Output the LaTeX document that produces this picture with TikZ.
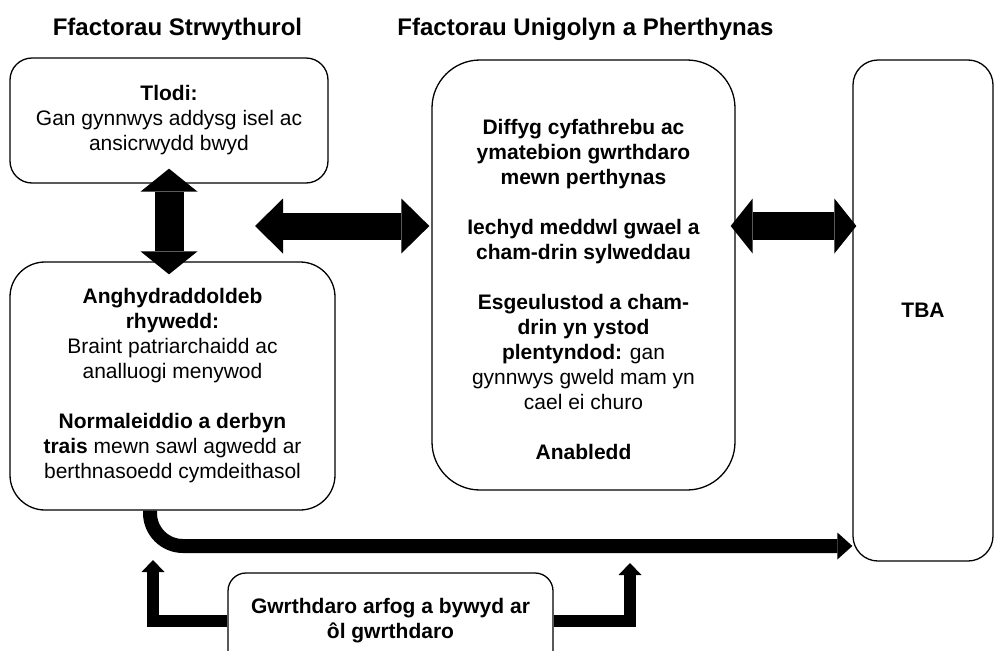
\documentclass[tikz,border=0pt]{standalone}
\usepackage{fontspec}
\setmainfont{Liberation Sans}
\usetikzlibrary{arrows.meta,calc}
\begin{document}
\begin{tikzpicture}[x=1pt,y=-1pt,
  box/.style={draw, line width=1.3pt, inner sep=0pt, align=center,
    font=\fontsize{21}{25}\selectfont},
  txt/.style={inner sep=0pt, align=center, font=\fontsize{21}{25}\selectfont},
  ttl/.style={inner sep=0pt, anchor=base, font=\fontsize{24}{28}\selectfont\bfseries},
  blk/.style={line width=#1, line join=miter, draw=black},
]
\useasboundingbox (0,0) rectangle (994,651);

% titles
\node[ttl] (t1) at (177.5,35) {Ffactorau Strwythurol};
\node[ttl] (t2) at (585.5,35) {Ffactorau Unigolyn a Pherthynas};

% boxes
\node[box, minimum width=318pt, minimum height=125pt, rounded corners=22pt] (tlodi) at (169,120.5)
  {\textbf{Tlodi:}\\Gan gynnwys addysg isel ac\\ansicrwydd bwyd};
\node[box, minimum width=325pt, minimum height=248pt, rounded corners=35pt] (anghy) at (172.5,386)
  {\textbf{Anghydraddoldeb}\\\textbf{rhywedd:}\\Braint patriarchaidd ac\\analluogi menywod\\[25pt]
   \textbf{Normaleiddio a derbyn}\\\textbf{trais} mewn sawl agwedd ar\\berthnasoedd cymdeithasol};
\node[box, minimum width=303pt, minimum height=430pt, rounded corners=48pt] (mid) at (583.5,275) {};
\node[txt] (midtext) at (583.5,289)
  {\textbf{Diffyg cyfathrebu ac}\\\textbf{ymatebion gwrthdaro}\\\textbf{mewn perthynas}\\[25pt]
   \textbf{Iechyd meddwl gwael a}\\\textbf{cham-drin sylweddau}\\[25pt]
   \textbf{Esgeulustod a cham-}\\\textbf{drin yn ystod}\\\textbf{plentyndod:} gan\\gynnwys gweld mam yn\\cael ei churo\\[25pt]
   \textbf{Anabledd}};
\node[box, minimum width=140pt, minimum height=501pt, rounded corners=25pt] (tba) at (923,310.5)
  {\textbf{TBA}};
\node[box, minimum width=325pt, minimum height=96pt, rounded corners=18pt] (bot) at (390.5,621)
  {\textbf{Gwrthdaro arfog a bywyd ar}\\\textbf{ôl gwrthdaro}};

% coordinates for free ends
\coordinate (hl) at (255,226);
\coordinate (cv) at (150,546);
\coordinate (bl) at (153,560);
\coordinate (br) at (630,563);

% block arrows
\draw[blk=29pt, {Triangle[length=23pt,width=57pt,line width=0pt]}-{Triangle[length=23pt,width=57pt,line width=0pt]}]
  ($(tlodi.south)+(0,-15)$) -- ($(tlodi.south |- anghy.north)+(0,13)$);
\draw[blk=27pt, {Triangle[length=28pt,width=55pt,line width=0pt]}-{Triangle[length=28pt,width=55pt,line width=0pt]}]
  (hl) -- ($(mid.west |- hl)+(-2,0)$);
\draw[blk=28pt, {Triangle[length=22pt,width=55pt,line width=0pt]}-{Triangle[length=22pt,width=55pt,line width=0pt]}]
  ($(mid.east |- hl)+(-5,0)$) -- ($(tba.west |- hl)+(4,0)$);
\draw[blk=14pt, rounded corners=33pt, -{Triangle[length=15pt,width=27pt,line width=0pt]}]
  (anghy.south -| cv) |- (tba.west |- cv);
\draw[blk=12pt, -{Triangle[length=12pt,width=23pt,line width=0pt]}]
  (bot.west) -| (bl);
\draw[blk=12pt, -{Triangle[length=12pt,width=23pt,line width=0pt]}]
  (bot.east) -| (br);
\end{tikzpicture}
\end{document}
